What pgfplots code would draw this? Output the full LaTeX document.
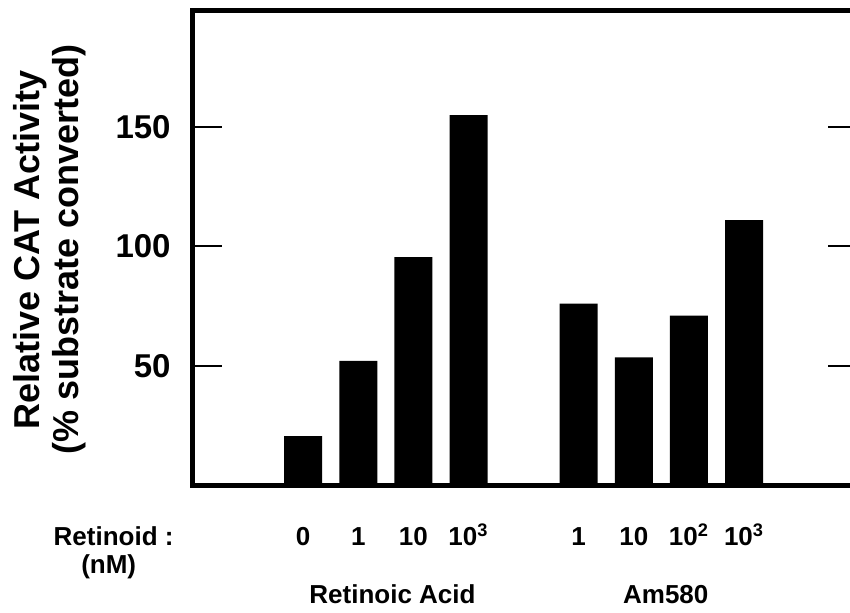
\documentclass[border=0pt]{standalone}
\usepackage{fontspec}
\setmainfont{Liberation Sans}
\usepackage{pgfplots}
\pgfplotsset{compat=1.18}

\begin{document}
\begin{tikzpicture}
\begin{axis}[
  scale only axis,
  width=332pt, height=237.5pt,
  xmin=-2, xmax=10.05,
  ymin=0, ymax=199,
  axis line style={line width=2.5pt},
  ybar, bar width=19pt, bar shift=0pt,
  xtick={0,1,2,3,5,6,7,8},
  xticklabels={0,1,10,10\textsuperscript{3},1,10,10\textsuperscript{2},10\textsuperscript{3}},
  x tick style={draw=none},
  xticklabel style={font=\fontsize{13}{15}\selectfont\bfseries, anchor=base, yshift=-30pt, inner sep=0pt},
  ytick={50,100,150},
  ytick pos=both,
  tick align=inside,
  y tick style={line width=1pt, black},
  major tick length=14.5pt,
  yticklabel style={font=\fontsize{16.5}{18}\selectfont\bfseries, inner sep=0pt, xshift=-11pt},
  /pgf/number format/assume math mode=true,
  clip=false,
]
\addplot[fill=black, draw=none] coordinates {
  (0,20.5) (1,52) (2,95.5) (3,155)
  (5,76) (6,53.5) (7,71) (8,111)
};

\node[anchor=base, yshift=-30pt, font=\fontsize{13}{15}\selectfont\bfseries] at (axis cs:-3.44,0) {Retinoid :};
\node[anchor=base, yshift=-44pt, font=\fontsize{13}{15}\selectfont\bfseries] at (axis cs:-3.53,0) {(nM)};
\node[anchor=base, yshift=-59pt, font=\fontsize{13}{15}\selectfont\bfseries] at (axis cs:1.62,0) {Retinoic Acid};
\node[anchor=base, yshift=-59pt, font=\fontsize{13}{15}\selectfont\bfseries] at (axis cs:6.58,0) {Am580};

\node[xshift=-71.5pt, rotate=90, align=center, font=\fontsize{18}{19.5}\selectfont\bfseries]
  at (rel axis cs:0,0.495) {Relative CAT Activity\\(\% substrate converted)};
\end{axis}
% page cut at the right, as in the scan
\pgfresetboundingbox
\path[use as bounding box] ([shift={(-96.5pt,-63.5pt)}]current axis.south west)
  rectangle ([shift={(-3.5pt,5pt)}]current axis.north east);
\end{tikzpicture}
\end{document}
